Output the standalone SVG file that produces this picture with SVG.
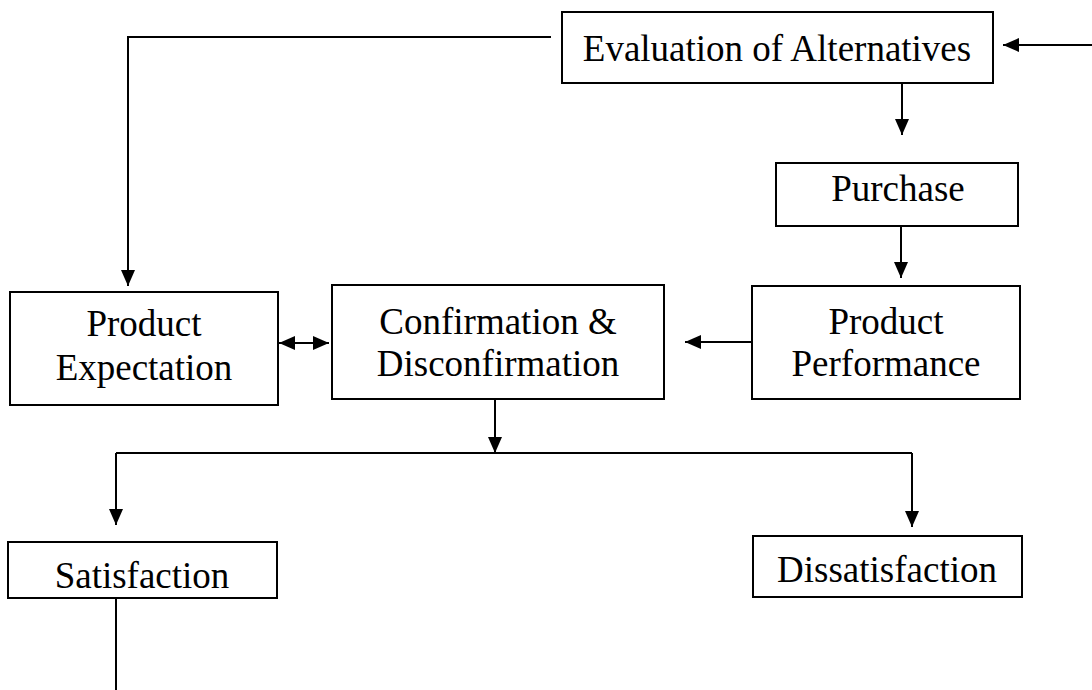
<svg xmlns="http://www.w3.org/2000/svg" width="1092" height="690" viewBox="0 0 1092 690">
<style>
.box{fill:#fff;stroke:#000;stroke-width:2}
.t{font-family:"Liberation Serif","Times New Roman",serif;font-size:37px;fill:#000;text-anchor:middle}
.ln{fill:none;stroke:#000;stroke-width:2}
</style>
<defs>
<marker id="ah" viewBox="0 0 16 14" refX="16" refY="7" markerWidth="16" markerHeight="14" markerUnits="userSpaceOnUse" orient="auto-start-reverse">
<path d="M0,0 L16,7 L0,14 Z" fill="#000"/>
</marker>
</defs>
<g id="connectors">
<polyline class="ln" points="551,37 128,37 128,286" marker-end="url(#ah)"/>
<line class="ln" x1="1092" y1="45" x2="1003" y2="45" marker-end="url(#ah)"/>
<line class="ln" x1="902" y1="84" x2="902" y2="135" marker-end="url(#ah)"/>
<line class="ln" x1="901" y1="227" x2="901" y2="278" marker-end="url(#ah)"/>
<line class="ln" x1="279" y1="343" x2="329" y2="343" marker-start="url(#ah)" marker-end="url(#ah)"/>
<line class="ln" x1="755" y1="342" x2="685" y2="342" marker-end="url(#ah)"/>
<line class="ln" x1="495" y1="400" x2="495" y2="453" marker-end="url(#ah)"/>
<polyline class="ln" points="116,453 912,453"/>
<line class="ln" x1="116" y1="453" x2="116" y2="525" marker-end="url(#ah)"/>
<line class="ln" x1="912" y1="453" x2="912" y2="527" marker-end="url(#ah)"/>
<line class="ln" x1="116" y1="598" x2="116" y2="690"/>
</g>
<g id="eval"><rect class="box" x="562" y="12" width="431" height="71"/><text class="t" x="777" y="61">Evaluation of Alternatives</text></g>
<g id="purchase"><rect class="box" x="776" y="163" width="242" height="63"/><text class="t" x="898" y="201">Purchase</text></g>
<g id="expectation"><rect class="box" x="10" y="292" width="268" height="113"/><text class="t" x="144" y="336">Product</text><text class="t" x="144" y="380">Expectation</text></g>
<g id="confirmation"><rect class="box" x="332" y="285" width="332" height="114"/><text class="t" x="498" y="334">Confirmation &amp;</text><text class="t" x="498" y="376">Disconfirmation</text></g>
<g id="performance"><rect class="box" x="752" y="286" width="268" height="113"/><text class="t" x="886" y="334">Product</text><text class="t" x="886" y="376">Performance</text></g>
<g id="satisfaction"><rect class="box" x="8" y="542" width="269" height="56"/><text class="t" x="142" y="588">Satisfaction</text></g>
<g id="dissatisfaction"><rect class="box" x="753" y="536" width="269" height="61"/><text class="t" x="887" y="582">Dissatisfaction</text></g>
</svg>
